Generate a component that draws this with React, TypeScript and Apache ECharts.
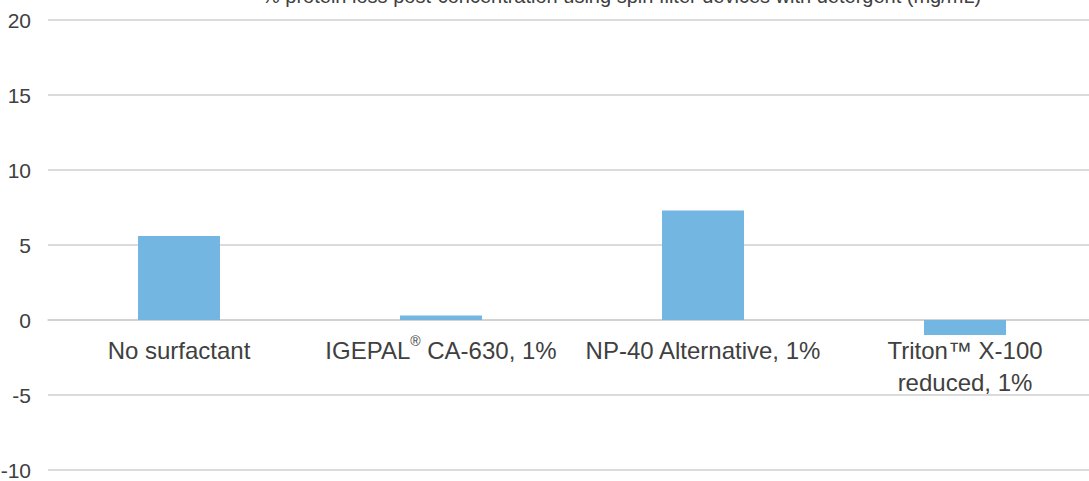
import React, { useEffect, useRef } from "react";
import * as echarts from "echarts";

const categories = ["No surfactant", "IGEPAL® CA-630, 1%", "NP-40 Alternative, 1%", "Triton™ X-100\nreduced, 1%"];
const values = [5.6, 0.3, 7.3, -1.0];
const yTicks = { min: -10, max: 20, interval: 5 };
const titleText = "% protein loss post-concentration using spin filter devices with detergent (mg/mL)";

export default function App() {
  const ref = useRef<HTMLDivElement>(null);
  useEffect(() => {
    document.body.style.margin = "0";
    const chart = echarts.init(ref.current!, null, { renderer: "svg" });
    chart.setOption({
      animation: false,
      backgroundColor: "#ffffff",
      textStyle: { fontFamily: "Liberation Sans, Arial, sans-serif" },
      graphic: [
        {
          type: "text",
          left: 262,
          top: -14,
          style: {
            text: titleText,
            fontSize: 20,
            fill: "#404040",
            fontFamily: "Liberation Sans, Arial, sans-serif",
          },
        },
      ],
      grid: { left: 48, top: 20, width: 1048, height: 450, outerBoundsMode: "none", containLabel: false },
      xAxis: {
        type: "category",
        data: categories,
        offset: -150,
        axisLine: { show: true, onZero: false, lineStyle: { color: "#cfcfcf", width: 1.5 } },
        axisTick: { show: false },
        axisLabel: {
          interval: 0,
          margin: 14,
          fontSize: 24,
          color: "#404040",
          lineHeight: 32,
          formatter: (v: string) => v.replace("®", "{sup|®}"),
          rich: {
            sup: { fontSize: 14, verticalAlign: "top", color: "#404040", padding: [0, 0, 10, 0] },
          },
        },
      },
      yAxis: {
        type: "value",
        min: yTicks.min,
        max: yTicks.max,
        interval: yTicks.interval,
        axisLine: { show: false },
        axisTick: { show: false },
        axisLabel: { fontSize: 21, color: "#404040", margin: 17 },
        splitLine: { lineStyle: { color: "#cfcfcf", width: 1.5 } },
      },
      series: [
        {
          type: "bar",
          data: values,
          barWidth: 82,
          itemStyle: { color: "#74b6e2" },
        },
      ],
    });
    return () => chart.dispose();
  }, []);
  return <div ref={ref} style={{ width: 1089, height: 481, position: "absolute", left: 0, top: 0 }} />;
}
